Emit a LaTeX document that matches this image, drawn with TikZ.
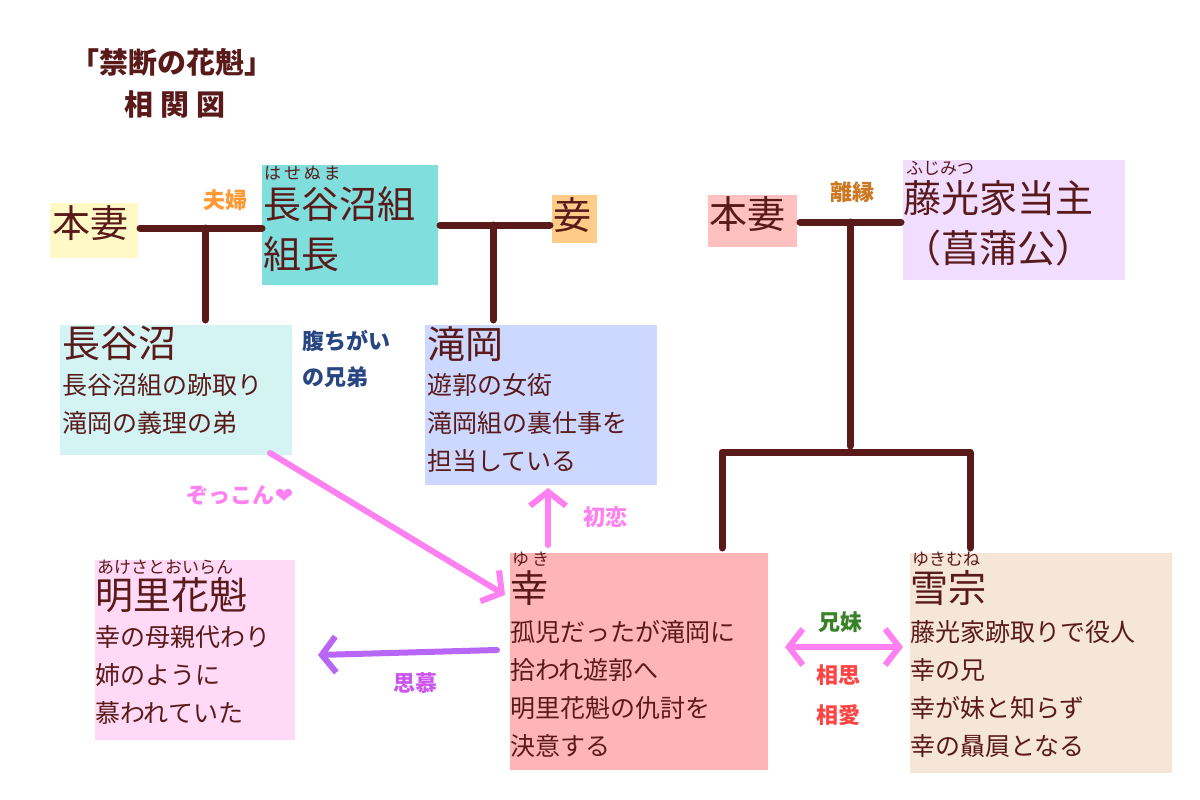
\documentclass[tikz,border=0pt]{standalone}
\usepackage{fontspec}
\setmainfont{Noto Sans CJK JP}
\usetikzlibrary{arrows.meta}
\definecolor{ink}{HTML}{5A1A1A}
\definecolor{pinkar}{HTML}{FF80F0}
\definecolor{purpar}{HTML}{B866F5}
\definecolor{cyel}{HTML}{FFF9C8}
\definecolor{cteal}{HTML}{80DEDC}
\definecolor{corg}{HTML}{FFCC88}
\definecolor{cpink}{HTML}{FFC0C0}
\definecolor{clav}{HTML}{F0DDFF}
\definecolor{ccyan}{HTML}{D4F4F4}
\definecolor{cblue}{HTML}{CCD8FF}
\definecolor{cmag}{HTML}{FFD9F5}
\definecolor{csal}{HTML}{FFB5B5}
\definecolor{cbeige}{HTML}{F5E6D8}
\definecolor{lorange}{HTML}{FF9933}
\definecolor{lbrown}{HTML}{CC7722}
\definecolor{lnavy}{HTML}{284682}
\definecolor{lpurp}{HTML}{CC55EE}
\definecolor{lgreen}{HTML}{3A8228}
\definecolor{lred}{HTML}{FF4444}
\tikzset{
 fam/.style={line width=7pt,draw=ink,line cap=round},
 txt/.style={anchor=north west,inner sep=0pt,text=ink,align=left},
 big/.style={txt,font=\fontsize{38}{48}\selectfont},
 body/.style={txt,font=\fontsize{25}{38}\selectfont},
 ruby/.style={txt,font=\fontsize{17}{17}\selectfont},
 lab/.style={font=\bfseries\fontsize{22}{30}\selectfont,inner sep=0pt},
 arr/.style={line width=6pt,line cap=round,line join=round,-{Straight Barb[length=14pt,width=36pt,line width=6pt]}},
}
\begin{document}
\begin{tikzpicture}[x=1pt,y=-1pt]
\useasboundingbox (0,0) rectangle (1200,800);
\fill[white] (0,0) rectangle (1200,800);
% title
\node[lab,text=ink,font=\bfseries\fontsize{29}{34}\selectfont] (t1) at (172,62) {「禁断の花魁」};
\node[lab,text=ink,font=\bfseries\fontsize{29}{34}\selectfont] (t2) at (175,104) {相 関 図};
% boxes
\fill[cyel] (50,203) rectangle (138,258);
\node[big] (honsai1) at (52,205) {本妻};
\fill[cteal] (262,165) rectangle (438,285);
\node[ruby] (r1) at (264,166) {は\,せ\,ぬ\,ま};
\node[big,font=\fontsize{38}{50}\selectfont] (kumicho) at (263,186) {長谷沼組\\組長};
\fill[corg] (552,195) rectangle (597,243);
\node[big] (mekake) at (553,197) {妾};
\fill[cpink] (708,195) rectangle (797,247);
\node[big] (honsai2) at (709,196) {本妻};
\fill[clav] (903,160) rectangle (1125,280);
\node[ruby] (r2) at (906,161) {ふじみつ};
\node[big,font=\fontsize{38}{50}\selectfont] (toushu) at (903,180) {藤光家当主\\（菖蒲公）};
\fill[ccyan] (60,325) rectangle (292,455);
\node[big] (hase) at (62,326) {長谷沼};
\node[body] (hasebody) at (62,373) {長谷沼組の跡取り\\滝岡の義理の弟};
\fill[cblue] (425,325) rectangle (657,485);
\node[big] (taki) at (427,326) {滝岡};
\node[body] (takibody) at (427,373) {遊郭の女衒\\滝岡組の裏仕事を\\担当している};
\fill[cmag] (95,560) rectangle (295,740);
\node[ruby] (r3) at (97,560) {あけさとおいらん};
\node[big] (akesato) at (95,577) {明里花魁};
\node[body] (akebody) at (95,625) {幸の母親代わり\\姉のように\\慕われていた};
\fill[csal] (510,553) rectangle (768,770);
\node[ruby] (r4) at (512,552) {ゆ\,き};
\node[big] (yuki) at (510,570) {幸};
\node[body] (yukibody) at (510,620) {孤児だったが滝岡に\\拾われ遊郭へ\\明里花魁の仇討を\\決意する};
\fill[cbeige] (910,553) rectangle (1172,773);
\node[ruby] (r5) at (912,552) {ゆきむね};
\node[big] (yukimune) at (910,570) {雪宗};
\node[body] (munebody) at (910,620) {藤光家跡取りで役人\\幸の兄\\幸が妹と知らず\\幸の贔屓となる};
% family lines
\draw[fam] (140,228) -- (262,228);
\draw[fam] (205,228) -- (205,320);
\draw[fam] (440,225) -- (550,225);
\draw[fam] (493,225) -- (493,320);
\draw[fam] (800,222) -- (901,222);
\draw[fam] (850,222) -- (850,446);
\draw[fam,line join=round] (722,548) -- (722,452) -- (970,452) -- (970,548);
% labels
\node[lab,text=lorange] (l1) at (225,200) {夫婦};
\node[lab,text=lbrown] (l2) at (852,192) {離縁};
\node[lab,text=lnavy,align=left,anchor=north west,font=\bfseries\fontsize{22}{36}\selectfont] (l3) at (302,330) {腹ちがい\\の兄弟};
\node[lab,text=pinkar] (l4) at (240,495) {ぞっこん{\fontspec{DejaVu Sans}\char"2764}};
\node[lab,text=pinkar] (l5) at (605,517) {初恋};
\node[lab,text=lpurp] (l6) at (415,683) {思慕};
\node[lab,text=lgreen] (l7) at (840,622) {兄妹};
\node[lab,text=lred,align=center,font=\bfseries\fontsize{22}{40}\selectfont] (l8) at (838,695) {相思\\相愛};
% arrows
\draw[arr,draw=pinkar] (270,453) -- (505,595);
\draw[arr,draw=pinkar] (548,545) -- (548,488);
\draw[arr,draw=purpar] (497,650) -- (318,655);
\draw[line width=6pt,line cap=round,draw=pinkar,{Straight Barb[length=14pt,width=36pt,line width=6pt]}-{Straight Barb[length=14pt,width=36pt,line width=6pt]}] (785,647) -- (903,647);
\end{tikzpicture}
\end{document}
